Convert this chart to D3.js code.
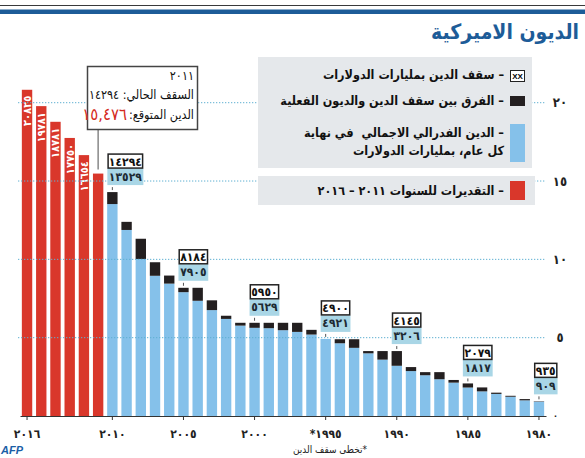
<!DOCTYPE html>
<html lang="ar">
<head>
<meta charset="UTF-8">
<title>الديون الاميركية</title>
<script src="https://d3js.org/d3.v7.min.js"></script>
<style>
  body { margin: 0; background: #fff; }
  svg { display: block; font-family: "DejaVu Sans Condensed", "DejaVu Sans", sans-serif; }
  svg text { white-space: pre; }
</style>
</head>
<body>
<div id="chart"></div>
<script>
// estimates 2011-2016 (billions of dollars)
const estYears = [2016, 2015, 2014, 2013, 2012, 2011];
const estDebt = [20825, 19781, 18781, 17750, 16654, 15476];

// actual debt and debt ceiling, end of each year (billions)
const years = [2010, 2009, 2008, 2007, 2006, 2005, 2004, 2003, 2002, 2001, 2000,
  1999, 1998, 1997, 1996, 1995, 1994, 1993, 1992, 1991, 1990,
  1989, 1988, 1987, 1986, 1985, 1984, 1983, 1982, 1981, 1980];
const debt = [13529, 11876, 10025, 8951, 8451, 7905, 7355, 6760, 6198, 5770, 5629,
  5605, 5478, 5369, 5200, 4921, 4643, 4351, 4001, 3598, 3206,
  2868, 2601, 2346, 2130, 1817, 1572, 1410, 1230, 1000, 909];
const ceiling = [14294, 12394, 11315, 9815, 8965, 8184, 8184, 7384, 6400, 5950, 5950,
  5950, 5950, 5950, 5500, 4900, 4900, 4900, 4145, 4145, 4145,
  3123, 2800, 2800, 2300, 2079, 1824, 1490, 1290, 1080, 935];

const labelYears = [2010, 2005, 2000, 1995, 1990, 1985, 1980];
const tickYears = [2016, 2010, 2005, 2000, 1995, 1990, 1985, 1980];
const exceededYears = [1995];
const yTicks = [0, 5000, 10000, 15000, 20000];

const current = { year: 2011, ceiling: 14294, forecast: 15476 };

const legendItems = [
  { key: 'cap', lines: ['سقف الدين بمليارات الدولارات'] },
  { key: 'gap', lines: ['الفرق بين سقف الدين والديون الفعلية'] },
  { key: 'debt', lines: ['الدين الفدرالي الاجمالي  في نهاية', 'كل عام، بمليارات الدولارات'] },
  { key: 'est', lines: ['التقديرات للسنوات ٢٠١١ – ٢٠١٦'] }
];

const colors = { debt: '#85c1ea', gap: '#231f20', est: '#d9372b', grid: '#5fb0d2',
  title: '#1d5c98', panel: '#e5e8eb', tagBlue: '#a9d6e6' };

const RLM = '\u200F';
const ar = v => String(v).replace(/\d/g, d => '٠١٢٣٤٥٦٧٨٩'[d]);

const width = 585, height = 458;

const svg = d3.select('#chart').append('svg')
  .attr('width', width)
  .attr('height', height);

const allYears = estYears.concat(years);

const x = d3.scaleBand()
  .domain(allYears)
  .range([20, 546])
  .paddingInner(0.27)
  .paddingOuter(0.13);

const y = d3.scaleLinear()
  .domain([0, 20000])
  .range([416, 102.7]);

// header rules and title
svg.append('line')
  .attr('x1', 0).attr('x2', width).attr('y1', 5.5).attr('y2', 5.5)
  .attr('stroke', '#3a3a3a').attr('stroke-width', 1.2);
svg.append('rect')
  .attr('x', 0).attr('y', 9.5).attr('width', width).attr('height', 4.5)
  .attr('fill', colors.title);
svg.append('text')
  .attr('x', 579).attr('y', 39)
  .attr('text-anchor', 'end')
  .attr('font-size', 21).attr('font-weight', 'bold')
  .attr('fill', colors.title)
  .text('الديون الاميركية');

// bars: estimates
const cx = d => x(d) + x.bandwidth() / 2;

svg.append('g').selectAll('rect')
  .data(estYears.map((yr, i) => ({ yr, v: estDebt[i] })))
  .join('rect')
  .attr('x', d => x(d.yr))
  .attr('width', x.bandwidth())
  .attr('y', d => y(d.v))
  .attr('height', d => y(0) - y(d.v))
  .attr('fill', colors.est);

const hist = years.map((yr, i) => ({ yr, debt: debt[i], cap: ceiling[i] }));

svg.append('g').selectAll('rect')
  .data(hist)
  .join('rect')
  .attr('x', d => x(d.yr))
  .attr('width', x.bandwidth())
  .attr('y', d => y(d.debt))
  .attr('height', d => y(0) - y(d.debt))
  .attr('fill', colors.debt);

svg.append('g').selectAll('rect')
  .data(hist.filter(d => d.cap > d.debt))
  .join('rect')
  .attr('x', d => x(d.yr))
  .attr('width', x.bandwidth())
  .attr('y', d => y(d.cap))
  .attr('height', d => y(d.debt) - y(d.cap))
  .attr('fill', colors.gap);

// vertical values inside red bars (not the 2011 one)
svg.append('g').selectAll('text')
  .data(estYears.map((yr, i) => ({ yr, v: estDebt[i] })).filter(d => d.yr !== current.year))
  .join('text')
  .attr('transform', d => `translate(${cx(d.yr) + 4},${y(d.v) + 6}) rotate(-90)`)
  .attr('text-anchor', 'end')
  .attr('font-size', 11).attr('font-weight', 'bold')
  .attr('fill', '#fff')
  .text(d => ar(d.v));

// dotted gridlines
svg.append('g').selectAll('line')
  .data(yTicks.filter(v => v > 0))
  .join('line')
  .attr('x1', 18).attr('x2', 546)
  .attr('y1', d => y(d)).attr('y2', d => y(d))
  .attr('stroke', colors.grid)
  .attr('stroke-width', 1)
  .attr('stroke-dasharray', '1.3,1.7');

// x axis
const xAxis = svg.append('g')
  .attr('transform', `translate(0,${y(0)})`)
  .call(d3.axisBottom(x)
    .tickValues(tickYears)
    .tickSize(4)
    .tickSizeOuter(0)
    .tickFormat(d => (exceededYears.includes(d) ? '*' : '') + ar(d)));
xAxis.select('.domain').attr('stroke', '#333');
xAxis.selectAll('.tick line').attr('stroke', '#333');
xAxis.selectAll('.tick text')
  .attr('y', 13)
  .attr('font-family', '"DejaVu Sans Condensed", "DejaVu Sans", sans-serif')
  .attr('font-size', 12).attr('font-weight', 'bold')
  .attr('fill', '#222');

// y axis labels on the right
const yAxis = svg.append('g')
  .attr('transform', 'translate(553,0)')
  .call(d3.axisRight(y).tickValues(yTicks).tickSize(0).tickFormat(d => ar(d / 1000)));
yAxis.select('.domain').remove();
yAxis.selectAll('.tick text')
  .attr('x', d => d === 0 ? 0 : 7)
  .attr('text-anchor', d => d === 0 ? 'start' : 'middle')
  .attr('font-family', '"DejaVu Sans Condensed", "DejaVu Sans", sans-serif')
  .attr('font-size', d => d === 0 ? 9 : 13).attr('font-weight', 'bold')
  .attr('fill', '#222');

// value tags above labelled bars
const tags = svg.append('g');
hist.filter(d => labelYears.includes(d.yr)).forEach(d => {
  const top = y(Math.max(d.cap, d.debt));
  const c = cx(d.yr);
  const w = String(d.cap).length * 6.2 + 5;
  const left = c - 5;
  const bottom = top - 7;
  tags.append('line')
    .attr('x1', c).attr('x2', c)
    .attr('y1', top - 5).attr('y2', top - 2)
    .attr('stroke', '#555').attr('stroke-width', 1);
  tags.append('rect')
    .attr('x', left).attr('y', bottom - 16.5)
    .attr('width', w).attr('height', 16.5)
    .attr('fill', colors.tagBlue);
  tags.append('rect')
    .attr('x', left + 0.75).attr('y', bottom - 31)
    .attr('width', w - 1.5).attr('height', 14)
    .attr('fill', '#fff').attr('stroke', '#222').attr('stroke-width', 1.5);
  tags.append('text')
    .attr('x', left + w / 2).attr('y', bottom - 4.5)
    .attr('text-anchor', 'middle')
    .attr('font-size', 12).attr('font-weight', 'bold').attr('fill', '#1d2a33')
    .text(ar(d.debt));
  tags.append('text')
    .attr('x', left + w / 2).attr('y', bottom - 19.5)
    .attr('text-anchor', 'middle')
    .attr('font-size', 12).attr('font-weight', 'bold').attr('fill', '#111')
    .text(ar(d.cap));
});

// 2011 callout
const cur = estYears.indexOf(current.year);
const curTop = y(estDebt[cur]);
svg.append('line')
  .attr('x1', cx(current.year)).attr('x2', cx(current.year))
  .attr('y1', 130).attr('y2', curTop - 4)
  .attr('stroke', '#888').attr('stroke-width', 1.5);
svg.append('rect')
  .attr('x', 87.5).attr('y', 66.5).attr('width', 110).attr('height', 63)
  .attr('fill', '#fff').attr('stroke', '#444').attr('stroke-width', 1.5);
svg.append('text')
  .attr('x', 194).attr('y', 80)
  .attr('text-anchor', 'end').attr('font-size', 12.5).attr('fill', '#111')
  .text(ar(current.year));
svg.append('text')
  .attr('x', 194).attr('y', 99)
  .attr('text-anchor', 'end').attr('font-size', 12.5).attr('fill', '#111')
  .text('السقف الحالي: ' + ar(current.ceiling));
const fcLabel = svg.append('text')
  .attr('x', 194).attr('y', 119)
  .attr('text-anchor', 'end').attr('font-size', 12.5).attr('fill', '#111')
  .text('الدين المتوقع:' + RLM);
const fcW = fcLabel.node().getComputedTextLength();
svg.append('text')
  .attr('x', 194 - fcW - 2).attr('y', 120)
  .attr('text-anchor', 'end').attr('font-size', 16.5).attr('fill', '#d42a20')
  .text(ar(d3.format(',')(current.forecast)));

// legend panels
svg.append('rect')
  .attr('x', 258).attr('y', 57).attr('width', 274).attr('height', 111)
  .attr('fill', colors.panel);
svg.append('rect')
  .attr('x', 258).attr('y', 176).attr('width', 277).attr('height', 29)
  .attr('fill', colors.panel);

const legendRows = [
  { y: 79, sw: { y: 70, h: 11 } },
  { y: 105, sw: { y: 96, h: 10 } },
  { y: 137, sw: { y: 124, h: 38 } },
  { y: 195, sw: { y: 181, h: 19 } }
];

legendItems.forEach((item, i) => {
  const row = legendRows[i];
  const g = svg.append('g');
  if (item.key === 'cap') {
    g.append('rect')
      .attr('x', 510.5).attr('y', row.sw.y + 0.5).attr('width', 14).attr('height', row.sw.h)
      .attr('fill', '#fff').attr('stroke', '#222').attr('stroke-width', 1);
    g.append('text')
      .attr('x', 517.5).attr('y', row.sw.y + 9)
      .attr('text-anchor', 'middle').attr('font-size', 8).attr('font-weight', 'bold')
      .attr('font-family', 'Liberation Sans Narrow, Liberation Sans, sans-serif')
      .text('XX');
  } else {
    g.append('rect')
      .attr('x', 510).attr('y', row.sw.y).attr('width', 15).attr('height', row.sw.h)
      .attr('fill', colors[item.key]);
  }
  item.lines.forEach((ln, j) => {
    g.append('text')
      .attr('x', 504).attr('y', row.y + j * 18)
      .attr('text-anchor', 'end')
      .attr('font-size', 12.5).attr('font-weight', 'bold').attr('fill', '#111')
      .text((j === 0 ? RLM + '– ' : '') + ln);
  });
});

// footnote and credit
svg.append('text')
  .attr('x', 330).attr('y', 453)
  .attr('text-anchor', 'middle').attr('font-size', 10).attr('fill', '#222')
  .text('تخطى سقف الدين*');
svg.append('text')
  .attr('x', 1).attr('y', 454)
  .attr('font-family', 'Liberation Sans, sans-serif')
  .attr('font-size', 11).attr('font-weight', 'bold').attr('font-style', 'italic')
  .attr('fill', '#1b5ea6')
  .text('AFP');
</script>
</body>
</html>
